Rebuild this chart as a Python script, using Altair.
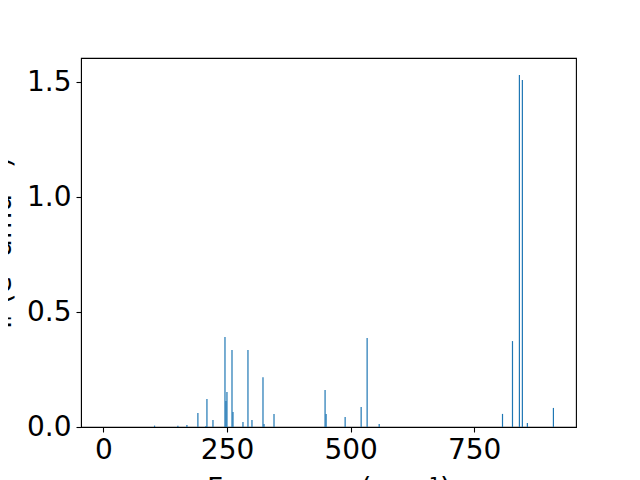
import altair as alt
import pandas as pd

freq = [103.3, 150.5, 168.8, 191.0, 207.3, 209.3, 221.5, 245.8, 247.8, 249.8,
        260.0, 262.0, 282.2, 292.3, 300.4, 322.7, 324.8, 345.0, 448.3, 450.4,
        488.9, 521.3, 533.4, 557.8, 807.3, 827.5, 841.5, 847.5, 857.6, 910.3]
intensity = [0.006, 0.005, 0.009, 0.061, 0.004, 0.122, 0.030, 0.392, 0.113, 0.152,
             0.335, 0.065, 0.022, 0.335, 0.030, 0.217, 0.013, 0.057, 0.161, 0.057,
             0.043, 0.087, 0.387, 0.013, 0.057, 0.374, 1.532, 1.510, 0.017, 0.083]
x_ticks = [0, 250, 500, 750]
y_ticks = [0.0, 0.5, 1.0, 1.5]

df = pd.DataFrame({"freq": freq, "intensity": intensity})

FONT = "DejaVu Sans"

chart = alt.Chart(df).mark_rule(color="#1f77b4", strokeWidth=1.2).encode(
    x=alt.X("freq:Q",
            scale=alt.Scale(domain=[-45.5, 956], nice=False, zero=False),
            axis=alt.Axis(values=x_ticks, format="d", title="Frequency (cm⁻¹)",
                          grid=False, labelFontSize=28, labelFont=FONT,
                          labelColor="black", tickColor="black", domainColor="black",
                          tickSize=5, tickWidth=1.1, labelPadding=4,
                          titleFont=FONT, titleFontSize=28, titleFontWeight="normal",
                          titleColor="black", titleBaseline="alphabetic",
                          titleX=247.5, titleY=70, titleAnchor="middle")),
    y=alt.Y("intensity:Q",
            scale=alt.Scale(domain=[0, 1.606], nice=False),
            axis=alt.Axis(values=y_ticks, format=".1f", title="Iᵣ (e² amu⁻¹)",
                          grid=False, labelFontSize=28, labelFont=FONT,
                          labelColor="black", tickColor="black", domainColor="black",
                          tickSize=5, tickWidth=1.1, labelPadding=5,
                          titleFont=FONT, titleFontSize=28, titleFontWeight="normal",
                          titleColor="black", titleAngle=270,
                          titleBaseline="alphabetic", titleAlign="center",
                          titleX=-71, titleY=184.5)),
    y2=alt.datum(0),
).properties(
    width=495,
    height=369,
    background="white",
    autosize=alt.AutoSizeParams(type="none"),
    padding={"left": 73, "top": 50, "right": 56, "bottom": 53},
).configure_view(
    stroke="black", strokeWidth=1.1
)

chart.save("out.html", embed_options={"renderer": "svg", "actions": False})
